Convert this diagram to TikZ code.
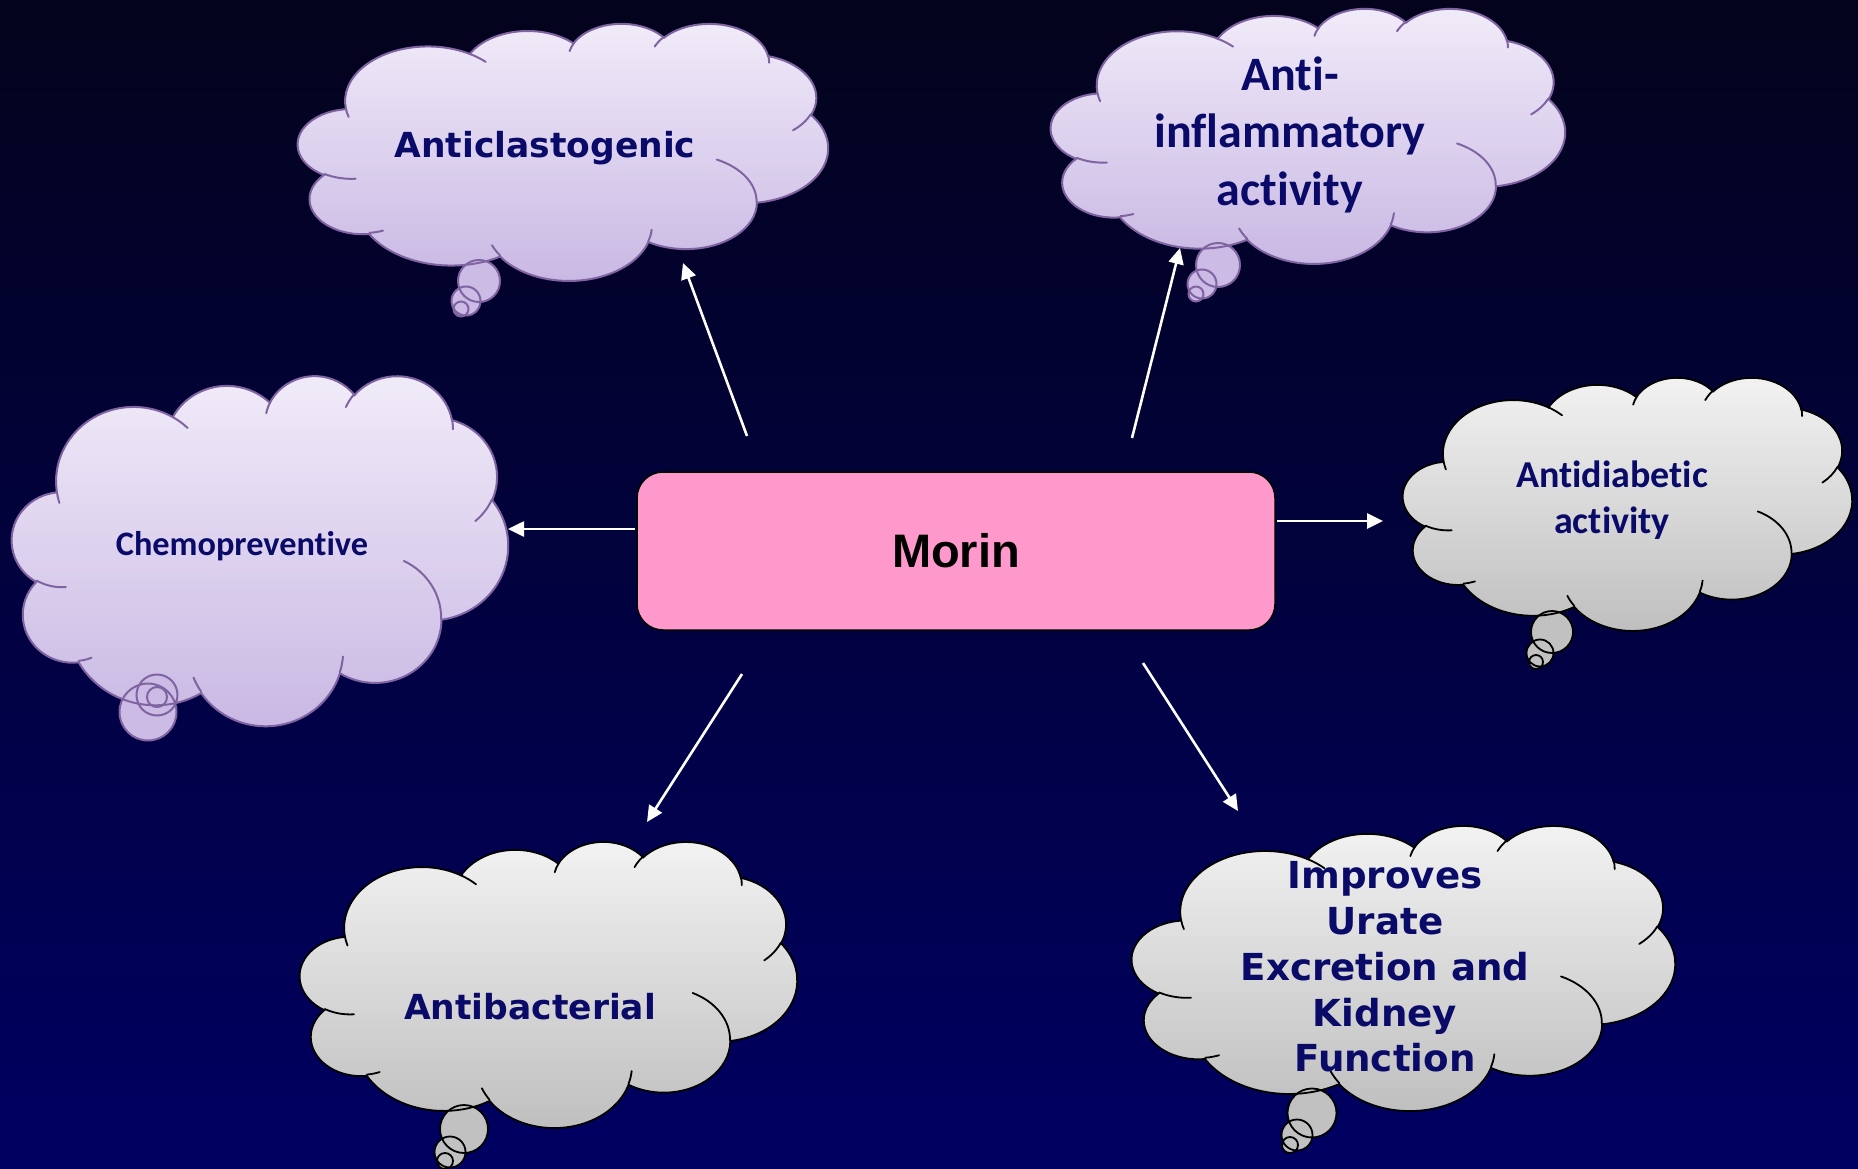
\documentclass[tikz,border=0pt]{standalone}
\usepackage{fontspec}
\usetikzlibrary{arrows.meta}
\newfontfamily\dvfont{DejaVu Sans}
\newfontfamily\clfont{Carlito}[Ligatures=NoCommon]
\newfontfamily\arfont{Liberation Sans}
\definecolor{bgtop}{RGB}{3,3,28}
\definecolor{bgbot}{RGB}{0,0,98}
\definecolor{ptop}{RGB}{241,236,249}
\definecolor{pbot}{RGB}{200,183,227}
\definecolor{pline}{RGB}{128,100,162}
\definecolor{gtop}{RGB}{243,243,243}
\definecolor{gbot}{RGB}{190,190,190}
\definecolor{navy}{RGB}{10,10,105}
\definecolor{morinpink}{RGB}{255,153,204}
\tikzset{
  carc/.style n args={4}{insert path={arc[x radius=#1, y radius=#2,
      start angle={atan2((#1)*sin(#3),(#2)*cos(#3))},
      delta angle={mod(atan2((#1)*sin((#3)+(#4)),(#2)*cos((#3)+(#4)))-atan2((#1)*sin(#3),(#2)*cos(#3))+720,360)}]}},
  cloudbody/.style={insert path={(3.9,14.37)
      [carc={6.753}{9.19}{-190.4875}{123.7805}]
      [carc={5.333}{7.267}{-144.1024}{89.9452}]
      [carc={4.365}{5.945}{-145.8079}{99.7230}]
      [carc={4.857}{6.595}{-130.9861}{117.2417}]
      [carc={5.333}{7.273}{-78.7089}{109.0269}]
      [carc={6.775}{9.22}{-46.2673}{130.2690}]
      [carc={5.785}{7.867}{0.6250}{114.0333}]
      [carc={6.752}{9.215}{22.4516}{115.1726}]
      [carc={7.72}{10.543}{66.2426}{75.7110}]
      [carc={4.36}{5.918}{-274.9421}{146.7356}]
      [carc={4.345}{5.945}{-246.8285}{152.5189}] -- cycle}},
  cloudwrinkles/.style={insert path={
      (4.693,26.177) [carc={4.345}{5.945}{86.7420}{26.4295}]
      (6.928,34.899) [carc={4.36}{5.918}{73.6105}{11.4475}]
      (16.478,39.09) [carc={6.752}{9.215}{137.6242}{14.0811}]
      (28.827,34.751) [carc={6.752}{9.215}{6.4533}{15.9984}]
      (34.129,22.954) [carc={5.785}{7.867}{-70.2924}{70.9174}]
      (41.798,15.354) [carc={5.333}{7.273}{30.3180}{27.7515}]
      (38.324,5.426) [carc={4.857}{6.595}{-13.7443}{14.8589}]
      (29.078,3.952) [carc={4.857}{6.595}{-149.1815}{18.1954}]
      (22.141,4.72) [carc={4.365}{5.945}{-163.4943}{17.6864}]
      (14.0,5.192) [carc={6.753}{9.19}{-66.7070}{12.3194}]
      (4.127,15.789) [carc={6.753}{9.19}{157.6544}{11.8582}]}},
  cloudframe/.style n args={4}{shift={(#1,#2)}, x=1cm, y=1cm,
      xscale={#3/1229.16}, yscale={-#4/1229.16}},
  purple fill/.style={top color=ptop, bottom color=pbot},
  purple bubble/.style={fill=pbot!92!ptop},
  purple line/.style={draw=pline, line width=2pt},
  grey fill/.style={top color=gtop, bottom color=gbot},
  grey bubble/.style={fill=gbot!94!gtop},
  grey line/.style={draw=black, line width=1.8pt},
  txt/.style={text=navy, inner sep=0pt},
  arr/.style={draw=white, line width=2.6pt, -{Triangle[length=16pt,width=15pt]}},
  morinbox/.style={draw=black, line width=1.5pt, fill=morinpink, rounded corners=26pt,
      minimum width=638pt, minimum height=158pt, inner sep=0pt,
      font={\arfont\bfseries\fontsize{47pt}{56pt}\selectfont}}
}
\newcommand\drawcloud[6]{%
  \begin{scope}[cloudframe={#1}{#2}{#3}{#4}]
    \path[#5 fill] (0,0) [cloudbody];
  \end{scope}
  \path[#5 bubble] #6;
  \begin{scope}[cloudframe={#1}{#2}{#3}{#4}]
    \path[#5 line] (0,0) [cloudbody];
    \path[#5 line, line cap=round] (0,0) [cloudwrinkles];
  \end{scope}
  \path[#5 line] #6;
}
\begin{document}
\begin{tikzpicture}[x=1pt, y=-1pt]
\useasboundingbox (0,0) rectangle (1858,1169);
\shade[top color=bgtop, bottom color=bgbot] (0,0) rectangle (1858,1169);

\drawcloud{298}{23}{530}{257}{purple}{(479,281) circle[radius=21pt] (466,301) circle[radius=14.5pt] (461,309) circle[radius=7.5pt]}
\drawcloud{1051}{8}{514}{255}{purple}{(1218,265) circle[radius=22pt] (1202,284) circle[radius=14.5pt] (1196,294) circle[radius=7.5pt]}
\drawcloud{12}{375}{496}{350}{purple}{(148,712) circle[radius=28.5pt] (157,695) circle[radius=20.5pt] (157,697) circle[radius=10pt]}
\drawcloud{1403}{377}{449}{253}{grey}{(1552,632) circle[radius=21pt] (1540,653) circle[radius=13.5pt] (1536,662) circle[radius=7pt]}
\drawcloud{300}{841}{497}{286}{grey}{(464,1129) circle[radius=24pt] (450,1152) circle[radius=15.5pt] (445,1161) circle[radius=8pt]}
\drawcloud{1132}{825}{543}{285}{grey}{(1312,1113) circle[radius=24.5pt] (1297,1135) circle[radius=15.5pt] (1290,1145) circle[radius=8pt]}

\node[txt, anchor=base, font={\dvfont\bfseries\fontsize{34.5pt}{41pt}\selectfont}] (anticlast) at (545,158) {Anticlastogenic};
\node[txt, align=center, font={\clfont\bfseries\fontsize{48pt}{57.5pt}\selectfont}] (antiinfl) at (1290,134.5) {Anti-\\inflammatory\\activity};
\node[txt, anchor=base, font={\clfont\bfseries\fontsize{34.3pt}{41pt}\selectfont}] (chemo) at (242,555) {Chemopreventive};
\node[txt, align=center, font={\clfont\bfseries\fontsize{38pt}{46pt}\selectfont}] (antidiab) at (1612,500.5) {Antidiabetic\\activity};
\node[txt, anchor=base, font={\dvfont\bfseries\fontsize{34.5pt}{41pt}\selectfont}] (antibact) at (530,1019) {Antibacterial};
\node[txt, align=center, font={\dvfont\bfseries\fontsize{37.2pt}{45.8pt}\selectfont}] (urate) at (1385,967) {Improves\\Urate\\Excretion and\\Kidney\\Function};

\node[morinbox] (morin) at (956,551) {Morin};

\coordinate (a1s) at (747,436); \coordinate (a1e) at (683,263);
\coordinate (a2s) at (1132,438); \coordinate (a2e) at (1180,248);
\coordinate (a3s) at (635,529); \coordinate (a3e) at (508,529);
\coordinate (a4s) at (1277,521); \coordinate (a4e) at (1383,521);
\coordinate (a5s) at (742,674); \coordinate (a5e) at (647,822);
\coordinate (a6s) at (1143,663); \coordinate (a6e) at (1238,811);
\draw[arr] (a1s) -- (a1e);
\draw[arr] (a2s) -- (a2e);
\draw[arr] (a3s) -- (a3e);
\draw[arr] (a4s) -- (a4e);
\draw[arr] (a5s) -- (a5e);
\draw[arr] (a6s) -- (a6e);
\end{tikzpicture}
\end{document}
